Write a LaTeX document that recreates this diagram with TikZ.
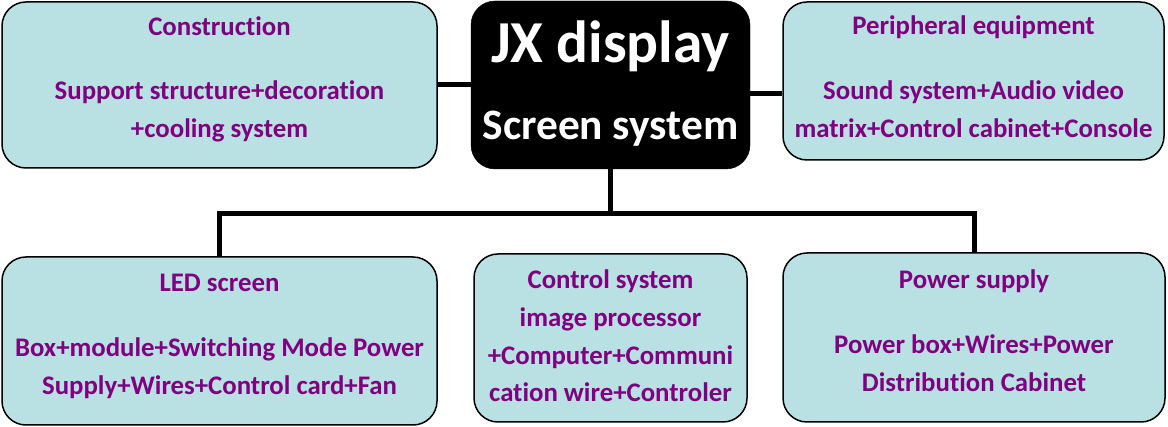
\documentclass[tikz,border=0pt]{standalone}
\usepackage{fontspec}
\setmainfont[Ligatures=NoCommon]{Carlito}
\usetikzlibrary{positioning}
\definecolor{boxfill}{RGB}{185,224,227}
\definecolor{boxtext}{RGB}{128,0,128}
\tikzset{
    part/.style={draw=black,line width=1.5pt,fill=boxfill,rounded corners=24pt,inner sep=0pt},
    hubbox/.style={draw=black,fill=black,rounded corners=24pt,inner sep=0pt},
    parttext/.style={anchor=base,align=center,inner sep=0pt,text=boxtext,font=\bfseries\fontsize{26.8}{38}\selectfont},
    hubtext/.style={anchor=base,inner sep=0pt,text=white},
    link/.style={line width=5pt,black}
}
\begin{document}
\begin{tikzpicture}[x=1pt,y=-1pt]
                \useasboundingbox (0,0) rectangle (1168,427);
                \node[part,minimum width=435,minimum height=166] (cons) at (219.5,85) {};
                \node[hubbox,minimum width=279,minimum height=168] (hub) at (610.5,85) {};
                \node[part,minimum width=381,minimum height=158] (peri) at (973.5,81) {};
                \node[part,minimum width=435,minimum height=168] (led) at (219.5,341) {};
                \node[part,minimum width=273,minimum height=168] (ctrl) at (610.5,338) {};
                \node[part,minimum width=382,minimum height=169] (pwr) at (974,337.5) {};
                \coordinate (fork) at ([yshift=-44pt]hub.south);
                \draw[link] (cons.east) -- (hub.west |- cons.east);
                \draw[link] ([yshift=-9pt]hub.east) -- ([yshift=-9pt]hub.east -| peri.west);
                \draw[link] (hub.south) -- (fork);
                \draw[link] (led.north) |- (fork) -| (pwr.north);
                \node[parttext] (cons-t) at (219.5,138) {Construction\\[26pt]Support structure+decoration\\+cooling system};
                \node[parttext] (peri-t) at (973.5,138) {Peripheral equipment\\[27pt]Sound system+Audio video\\matrix+Control cabinet+Console};
                \node[parttext] (led-t) at (219.5,395) {LED screen\\[27pt]Box+module+Switching Mode Power\\Supply+Wires+Control card+Fan};
                \node[parttext,font=\bfseries\fontsize{26.8}{37.7}\selectfont] (ctrl-t) at (610.5,402) {Control system\\image processor\\+Computer+Communi\\cation wire+Controler};
                \node[parttext] (pwr-t) at (974,392) {Power supply\\[27pt]Power box+Wires+Power\\Distribution Cabinet};
                \node[hubtext,font=\bfseries\fontsize{59.5}{62}\selectfont] (hub-a) at (610.5,63) {JX display};
                \node[hubtext,font=\bfseries\fontsize{43.4}{48}\selectfont] (hub-b) at (610.5,140) {Screen system};
            \end{tikzpicture}
\end{document}
